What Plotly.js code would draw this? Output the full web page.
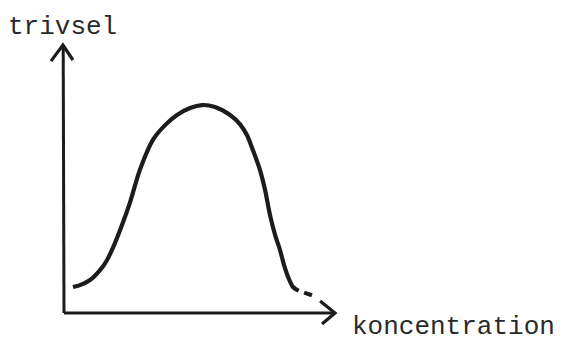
<!DOCTYPE html>
<html>
<head>
<meta charset="utf-8">
<script src="https://cdn.plot.ly/plotly-3.0.1.min.js"></script>
<style>
  html, body { margin: 0; padding: 0; background: #ffffff; }
  #chart { width: 565px; height: 342px; }
</style>
</head>
<body>
<div id="chart"></div>
<script>
// Sketch: well-being (trivsel) as a function of concentration (koncentration).
// Curve values in arbitrary units, origin at the corner of the two axes.
// The pen lifts briefly near the end (null), leaving a short separate tail stroke.
const koncentration = [0.33, 0.59, 0.96, 1.33, 1.59, 1.88, 2.14, 2.44, 2.80, 3.28, 3.73, 4.17, 4.65, 5.09, 5.57, 6.13, 6.49, 6.75, 6.97, 7.23, 7.42, 7.60, 7.79, 7.97, 8.12, 8.27, 8.45, 8.66, null, 8.86, 9.15];
const trivsel       = [0.97, 1.04, 1.23, 1.60, 1.98, 2.61, 3.28, 4.14, 5.34, 6.46, 7.01, 7.39, 7.65, 7.76, 7.69, 7.39, 7.05, 6.64, 6.08, 5.34, 4.59, 3.66, 2.91, 2.35, 1.79, 1.34, 0.97, 0.83, null, 0.76, 0.66];

// Axis arrows (hand-drawn look): shaft ends and open chevron heads
const xAxisShaftX = [0, 10.0];
const xAxisShaftY = [0, 0];
const xArrowX = [9.45, 10.0, 9.52];
const xArrowY = [0.45, 0, -0.41];
const yAxisShaftX = [0, -0.03];
const yAxisShaftY = [0, 10.0];
const yArrowX = [-0.48, -0.04, 0.33];
const yArrowY = [9.40, 10.0, 9.44];

const xLabel = 'koncentration';
const yLabel = 'trivsel';

const ink = '#1c1c1c';
const typeFont = { family: '"Liberation Mono", "DejaVu Sans Mono", monospace', size: 26, color: '#2a2a2a' };

function stroke(x, y, w) {
  return { x: x, y: y, type: 'scatter', mode: 'lines', hoverinfo: 'skip',
           line: { color: ink, width: w, shape: 'linear' }, showlegend: false };
}

const traces = [
  stroke(yAxisShaftX, yAxisShaftY, 3),
  stroke(yArrowX, yArrowY, 3.2),
  stroke(xAxisShaftX, xAxisShaftY, 3),
  stroke(xArrowX, xArrowY, 3.2),
  { x: koncentration, y: trivsel, type: 'scatter', mode: 'lines', hoverinfo: 'skip', connectgaps: false,
    line: { color: ink, width: 4.2, shape: 'spline', smoothing: 0.8 }, showlegend: false }
];

// Pixel scale of the frame: origin of the axes sits at (64, 313) in a 565x342 frame
const pxX = 27.1, pxY = 26.8, ox = 64, oy = 313, W = 565, H = 342;

const layout = {
  width: W, height: H,
  margin: { l: 0, r: 0, t: 0, b: 0, pad: 0 },
  paper_bgcolor: '#ffffff', plot_bgcolor: '#ffffff',
  xaxis: { range: [-ox / pxX, (W - ox) / pxX], visible: false, fixedrange: true },
  yaxis: { range: [-(H - oy) / pxY, oy / pxY], visible: false, fixedrange: true },
  annotations: [
    { text: yLabel, x: -2.14, y: 10.66, xref: 'x', yref: 'y', xanchor: 'left', yanchor: 'middle',
      showarrow: false, font: typeFont },
    { text: xLabel, x: 10.57, y: -0.52, xref: 'x', yref: 'y', xanchor: 'left', yanchor: 'middle',
      showarrow: false, font: typeFont }
  ]
};

Plotly.newPlot('chart', traces, layout, { staticPlot: true, displayModeBar: false });
</script>
</body>
</html>
